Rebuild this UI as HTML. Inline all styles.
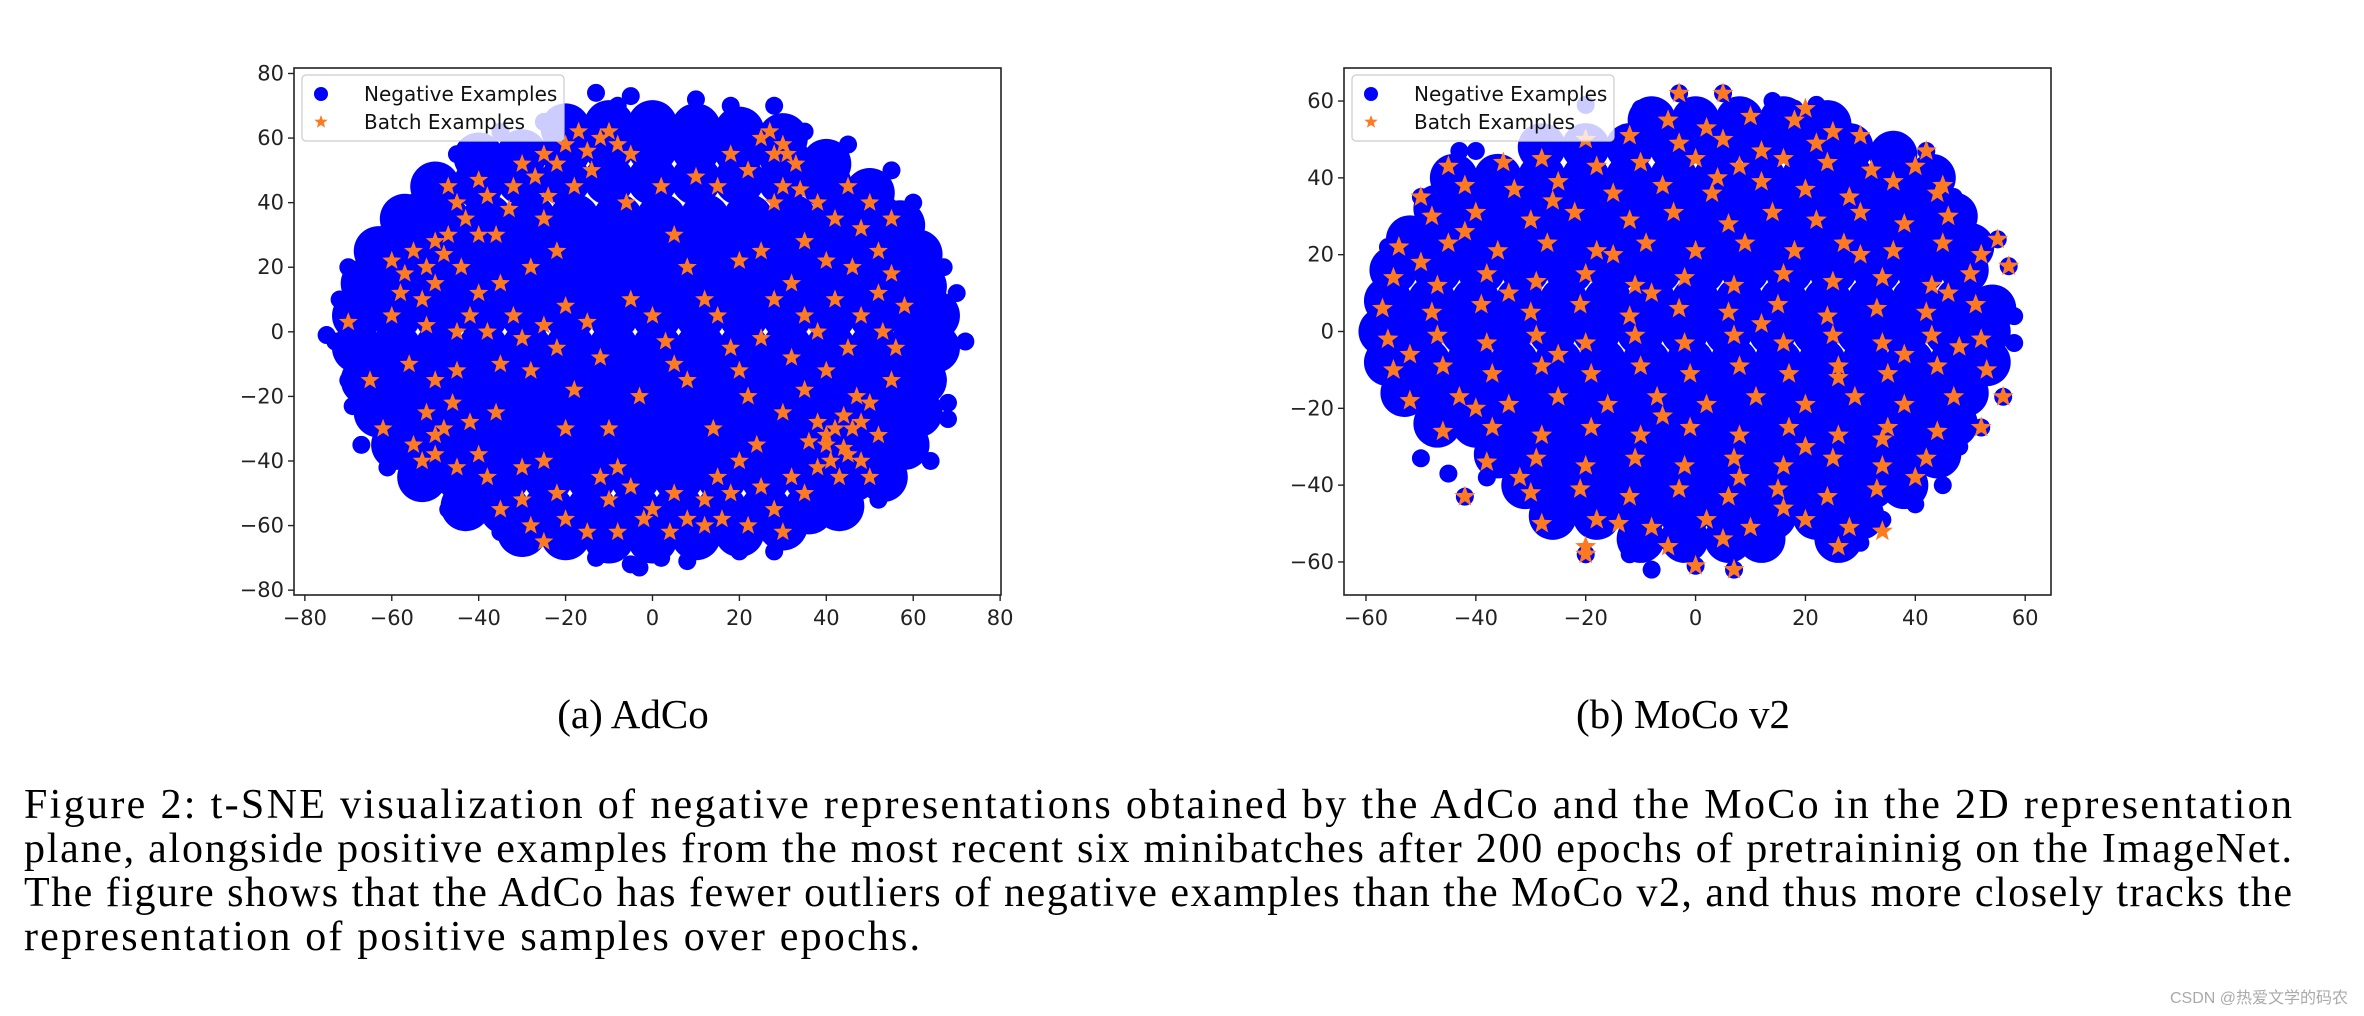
<!DOCTYPE html>
<html><head><meta charset="utf-8"><style>
html,body{margin:0;padding:0;background:#fff;}
svg{display:block;}
.tick{font-family:"DejaVu Sans","Liberation Sans",sans-serif;font-size:21px;fill:#222;}
.leg{font-family:"DejaVu Sans","Liberation Sans",sans-serif;font-size:20px;fill:#111;}
.cap{font-family:"Liberation Serif",serif;font-size:42px;fill:#000;}
</style></head><body>
<svg id="fig" width="2364" height="1016" viewBox="0 0 2364 1016" xmlns="http://www.w3.org/2000/svg">
<g id="c1"></g>
<g id="c2"></g>
<text class="cap" x="633" y="728" text-anchor="middle" style="font-size:41px">(a) AdCo</text>
<text class="cap" x="1683" y="728" text-anchor="middle" style="font-size:41px">(b) MoCo v2</text>
<g>
<text class="cap" x="24" y="818" textLength="2268" lengthAdjust="spacing">Figure 2:  t-SNE visualization of negative representations obtained by the AdCo and the MoCo in the 2D representation</text>
<text class="cap" x="24" y="862" textLength="2268" lengthAdjust="spacing">plane, alongside positive examples from the most recent six minibatches after 200 epochs of pretraininig on the ImageNet.</text>
<text class="cap" x="24" y="906" textLength="2268" lengthAdjust="spacing">The figure shows that the AdCo has fewer outliers of negative examples than the MoCo v2, and thus more closely tracks the</text>
<text class="cap" x="24" y="950" textLength="896" lengthAdjust="spacing">representation of positive samples over epochs.</text>
</g>
<text x="2348" y="1003" text-anchor="end" style="font-family:'Liberation Sans','Noto Sans CJK SC',sans-serif;font-size:16px;fill:#aaa">CSDN @热爱文学的码农</text>
</svg>
<script>
// ---- Chart 1 (AdCo) data ----
const adcoNegCore = [
[-20,63],[-10,64],[0,64],[10,63],[20,62],[30,60],
[-40,54],[-30,55],[-20,56],[-10,57],[0,57],[10,57],[20,56],[30,55],[40,52],
[-50,45],[-40,46],[-30,47],[-20,47],[-10,47],[0,47],[10,47],[20,47],[30,47],[40,46],[50,43],
[-57,35],[-48,35],[-38,35],[-28,35],[-18,35],[-8,35],[2,35],[12,35],[22,35],[32,35],[42,35],[52,35],[57,33],
[-63,25],[-54,25],[-44,25],[-34,25],[-24,25],[-14,25],[-4,25],[6,25],[16,25],[26,25],[36,25],[46,25],[56,25],[61,24],
[-66,15],[-57,15],[-47,15],[-37,15],[-27,15],[-17,15],[-7,15],[3,15],[13,15],[23,15],[33,15],[43,15],[53,15],[62,14],
[-68,5],[-59,5],[-49,5],[-39,5],[-29,5],[-19,5],[-9,5],[1,5],[11,5],[21,5],[31,5],[41,5],[51,5],[60,5],[65,5],
[-68,-5],[-59,-5],[-49,-5],[-39,-5],[-29,-5],[-19,-5],[-9,-5],[1,-5],[11,-5],[21,-5],[31,-5],[41,-5],[51,-5],[60,-5],[65,-5],
[-66,-15],[-57,-15],[-47,-15],[-37,-15],[-27,-15],[-17,-15],[-7,-15],[3,-15],[13,-15],[23,-15],[33,-15],[43,-15],[53,-15],[62,-15],
[-63,-25],[-54,-25],[-44,-25],[-34,-25],[-24,-25],[-14,-25],[-4,-25],[6,-25],[16,-25],[26,-25],[36,-25],[46,-25],[56,-25],[61,-25],
[-59,-35],[-50,-35],[-40,-35],[-30,-35],[-20,-35],[-10,-35],[0,-35],[10,-35],[20,-35],[30,-35],[40,-35],[50,-35],[58,-35],
[-53,-45],[-44,-45],[-34,-45],[-24,-45],[-14,-45],[-4,-45],[6,-45],[16,-45],[26,-45],[36,-45],[46,-45],[53,-45],
[-43,-54],[-34,-55],[-24,-55],[-14,-55],[-4,-55],[6,-55],[16,-55],[26,-55],[36,-55],[43,-54],
[-30,-62],[-20,-63],[-10,-64],[0,-64],[10,-63],[20,-62],[30,-60]
];
const adcoNegEdge = [
[-75,-1],[-73,-3],[-72,10],[-70,20],[-70,-15],[-69,-23],[-67,-35],[-61,-42],[-62,30],[-55,40],
[-47,-55],[-40,-57],[-35,-62],[-13,-70],[-5,-72],[-3,-73],[2,-70],[8,-71],[20,-68],[28,-68],
[70,12],[72,-3],[68,-27],[68,-22],[66,5],[67,20],[60,40],[55,50],[45,58],[35,62],[28,70],[18,70],[10,72],[-13,74],[-5,73],[-8,70],[-25,65],[-35,62],[-45,55],[67,-8],[64,-40],[52,-52]
];
const adcoBatch = [
[-60,22],[-57,18],[-55,25],[-52,20],[-50,15],[-48,24],[-53,10],[-47,30],[-50,28],[-45,40],[-47,45],[-43,35],[-40,47],[-38,42],[-36,30],[-33,38],[-30,52],[-27,48],[-25,55],[-22,52],[-20,58],[-17,62],[-12,60],[-10,62],[-8,58],[-5,55],[-14,50],[-18,45],[-25,35],[-22,25],[-28,20],[-35,15],[-40,12],[-42,5],[-38,0],[-32,5],[-30,-2],[-25,2],[-22,-5],[-20,8],[-15,3],[-12,-8],[-18,-18],[-28,-12],[-35,-10],[-45,-12],[-50,-15],[-52,-25],[-48,-30],[-55,-35],[-50,-38],[-45,-42],[-40,-38],[-38,-45],[-42,-28],[-35,-55],[-30,-52],[-28,-60],[-25,-65],[-20,-58],[-15,-62],[-10,-52],[-8,-42],[-5,-48],[0,-55],[5,-50],[8,-58],[12,-52],[15,-45],[20,-40],[25,-48],[28,-55],[22,-60],[30,-62],[35,-50],[38,-42],[40,-35],[42,-30],[45,-38],[43,-45],[48,-28],[50,-22],[52,-32],[47,-20],[55,-15],[56,-5],[53,0],[58,8],[55,18],[52,25],[55,35],[50,40],[45,45],[42,35],[38,40],[35,28],[30,45],[28,55],[25,60],[30,58],[33,52],[22,50],[18,55],[15,45],[10,48],[2,45],[5,30],[8,20],[12,10],[15,5],[18,-5],[20,-12],[22,-20],[25,-2],[28,10],[32,15],[35,5],[38,0],[42,10],[45,-5],[40,-12],[35,-18],[30,-25],[20,22],[25,25],[-5,10],[0,5],[3,-3],[5,-10],[8,-15],[-3,-20],[-10,-30],[-20,-30],[-25,-40],[-60,5],[-65,-15],[-62,-30],[-70,3],
[40,-32],[44,-36],[46,-30],[41,-40],[38,-28],[44,-26],[36,-34],[48,-40],[27,62],[31,55],[-50,-32],[-53,-40],[-8,-62],[-2,-58],[12,-60],[16,-58],[4,-62],
[-58,12],[-44,20],[-40,30],[-32,45],[-24,42],[-15,56],[-6,40],[28,40],[34,44],[48,32],[52,12],[46,20],[-56,-10],[-46,-22],[-36,-25],[-30,-42],[-22,-50],[-12,-45],[18,-50],[32,-45],[50,-45],[24,-35],[14,-30],[-45,0],[-52,2],[32,-8],[48,5],[40,22]
];
const adcoXTicks = [-80,-60,-40,-20,0,20,40,60,80];
const adcoYTicks = [-80,-60,-40,-20,0,20,40,60,80];

// ---- Chart 2 (MoCo v2) data ----
const mocoNegCore = [
[-8,55],[0,55],[8,55],[16,55],[24,54],
[-28,48],[-20,48],[-12,48],[-4,48],[4,48],[12,48],[20,48],[28,48],[36,46],
[-44,40],[-36,40],[-28,40],[-20,40],[-12,40],[-4,40],[4,40],[12,40],[20,40],[28,40],[36,40],[43,40],
[-47,32],[-39,32],[-31,32],[-23,32],[-15,32],[-7,32],[1,32],[9,32],[17,32],[25,32],[33,32],[41,32],[47,30],
[-52,24],[-44,24],[-36,24],[-28,24],[-20,24],[-12,24],[-4,24],[4,24],[12,24],[20,24],[28,24],[36,24],[44,24],[50,22],
[-55,16],[-47,16],[-39,16],[-31,16],[-23,16],[-15,16],[-7,16],[1,16],[9,16],[17,16],[25,16],[33,16],[41,16],[49,16],
[-56,8],[-48,8],[-40,8],[-32,8],[-24,8],[-16,8],[-8,8],[0,8],[8,8],[16,8],[24,8],[32,8],[40,8],[48,8],[54,6],
[-57,0],[-50,0],[-42,0],[-34,0],[-26,0],[-18,0],[-10,0],[-2,0],[6,0],[14,0],[22,0],[30,0],[38,0],[46,0],[53,0],
[-56,-8],[-49,-8],[-41,-8],[-33,-8],[-25,-8],[-17,-8],[-9,-8],[-1,-8],[7,-8],[15,-8],[23,-8],[31,-8],[39,-8],[47,-8],[53,-8],
[-53,-16],[-46,-16],[-38,-16],[-30,-16],[-22,-16],[-14,-16],[-6,-16],[2,-16],[10,-16],[18,-16],[26,-16],[34,-16],[42,-16],[49,-16],
[-47,-24],[-40,-24],[-32,-24],[-24,-24],[-16,-24],[-8,-24],[0,-24],[8,-24],[16,-24],[24,-24],[32,-24],[40,-24],[47,-24],
[-36,-32],[-28,-32],[-20,-32],[-12,-32],[-4,-32],[4,-32],[12,-32],[20,-32],[28,-32],[36,-32],[44,-32],
[-31,-40],[-24,-40],[-16,-40],[-8,-40],[0,-40],[8,-40],[16,-40],[24,-40],[32,-40],[38,-40],
[-26,-48],[-18,-48],[-10,-48],[-2,-48],[6,-48],[14,-48],[22,-48],[30,-48],
[-10,-54],[-2,-54],[6,-54],[12,-54],[26,-54]
];
const mocoNegEdge = [
[-10,58],[-20,59],[-43,47],[-50,35],[-45,43],[-40,47],[-50,-33],[-45,-37],[-42,-43],[-38,-38],[-8,-62],[-12,-58],[0,-61],[7,-62],[-20,-58],
[45,-40],[40,-45],[42,47],[45,38],[47,35],[55,24],[57,17],[58,4],[58,-3],[56,-17],[52,-25],[48,-30],[34,-49],[30,-55],[-3,62],[5,62],[14,60],[18,58],[22,59],[35,49],[-56,22],[-57,12],[-58,-6]
];
const mocoBatch = [
[-5,55],[2,53],[10,56],[18,55],[25,52],[-3,62],[5,62],[20,58],
[-20,50],[-12,51],[-3,49],[5,50],[12,47],[22,49],[30,51],
[-35,44],[-28,45],[-18,43],[-10,44],[0,45],[8,43],[16,45],[24,44],[32,42],[40,43],
[-42,38],[-33,37],[-25,39],[-15,36],[-6,38],[3,36],[12,39],[20,37],[28,35],[36,39],[44,36],
[-48,30],[-40,31],[-30,29],[-22,31],[-12,29],[-4,31],[6,28],[14,31],[22,29],[30,31],[38,28],[46,30],
[-54,22],[-45,23],[-36,21],[-27,23],[-18,21],[-9,23],[0,21],[9,23],[18,21],[27,23],[36,21],[45,23],[52,20],
[-55,14],[-47,12],[-38,15],[-29,13],[-20,15],[-11,12],[-2,14],[7,12],[16,15],[25,13],[34,14],[43,12],[50,15],
[-57,6],[-48,5],[-39,7],[-30,5],[-21,7],[-12,4],[-3,6],[6,5],[15,7],[24,4],[33,6],[42,5],[51,7],
[-56,-2],[-47,-1],[-38,-3],[-29,-1],[-20,-3],[-11,-1],[-2,-3],[7,-1],[16,-3],[25,-1],[34,-3],[43,-1],[52,-2],
[-55,-10],[-46,-9],[-37,-11],[-28,-9],[-19,-11],[-10,-9],[-1,-11],[8,-9],[17,-11],[26,-9],[35,-11],[44,-9],[53,-10],
[-52,-18],[-43,-17],[-34,-19],[-25,-17],[-16,-19],[-7,-17],[2,-19],[11,-17],[20,-19],[29,-17],[38,-19],[47,-17],
[-46,-26],[-37,-25],[-28,-27],[-19,-25],[-10,-27],[-1,-25],[8,-27],[17,-25],[26,-27],[35,-25],[44,-26],
[-38,-34],[-29,-33],[-20,-35],[-11,-33],[-2,-35],[7,-33],[16,-35],[25,-33],[34,-35],[42,-33],
[-30,-42],[-21,-41],[-12,-43],[-3,-41],[6,-43],[15,-41],[24,-43],[33,-41],
[-28,-50],[-18,-49],[-8,-51],[2,-49],[10,-51],[20,-49],[28,-51],
[-20,-56],[-5,-56],[5,-54],[26,-56],[34,-52],
[-20,-58],[0,-61],[7,-62],[55,24],[57,17],[-50,35],[-45,43],[-42,-43],[42,47],[45,38],[56,-17],[52,-25],
[-50,18],[-42,26],[-34,10],[-25,-6],[-15,20],[-6,-22],[4,40],[12,2],[20,-30],[30,20],[38,-6],[46,10],[-40,-20],[-32,-38],[-14,-50],[16,-46],[34,-28],[48,-4],[-52,-6],[8,-38],[-26,34],[26,-12],[-8,10],[40,-38]
];
const mocoXTicks = [-60,-40,-20,0,20,40,60];
const mocoYTicks = [-60,-40,-20,0,20,40,60];

const NS='http://www.w3.org/2000/svg';
function mk(tag, attrs, parent){const e=document.createElementNS(NS,tag);for(const k in attrs)e.setAttribute(k,attrs[k]);parent.appendChild(e);return e;}
function starPath(cx,cy,R){const r=R*0.42;let d='';for(let i=0;i<10;i++){const a=-Math.PI/2+i*Math.PI/5;const rr=i%2?r:R;d+=(i?'L':'M')+(cx+rr*Math.cos(a)).toFixed(1)+' '+(cy+rr*Math.sin(a)).toFixed(1);}return d+'Z';}

function drawChart(g, cfg){
  const sx=v=>cfg.L+(v-cfg.xmin)/(cfg.xmax-cfg.xmin)*(cfg.R-cfg.L);
  const sy=v=>cfg.B-(v-cfg.ymin)/(cfg.ymax-cfg.ymin)*(cfg.B-cfg.T);
  const clip='clip'+cfg.id;
  const defs=mk('defs',{},g);
  const cp=mk('clipPath',{id:clip},defs);
  mk('rect',{x:cfg.L,y:cfg.T,width:cfg.R-cfg.L,height:cfg.B-cfg.T},cp);
  const pts=mk('g',{'clip-path':'url(#'+clip+')'},g);
  
  
  cfg.core.forEach(p=>{
    const c=mk('circle',{cx:sx(p[0]),cy:sy(p[1]),r:cfg.coreR,fill:'#0000ff'},pts);
    
    
  });
  cfg.edge.forEach(p=>{
    const c=mk('circle',{cx:sx(p[0]),cy:sy(p[1]),r:9,fill:'#0000ff'},pts);
    
    
  });
  const st=mk('g',{'clip-path':'url(#'+clip+')'},g);
  
  
  cfg.stars.forEach(p=>{
    const s=mk('path',{d:starPath(sx(p[0]),sy(p[1]),cfg.starR),fill:'#ff7a1f'},st);
    
    
  });
  const fr=mk('rect',{x:cfg.L,y:cfg.T,width:cfg.R-cfg.L,height:cfg.B-cfg.T,fill:'none',stroke:'#222','stroke-width':1.6},g);
  
  
  cfg.xt.forEach(v=>{
    const x=sx(v);
    mk('line',{x1:x,x2:x,y1:cfg.B,y2:cfg.B+6,stroke:'#222','stroke-width':1.4},g);
    const t=mk('text',{x:x,y:cfg.B+30,'text-anchor':'middle',class:'tick'},g);
    t.textContent=v<0?'\u2212'+(-v):String(v);
    
    
  });
  cfg.yt.forEach(v=>{
    const y=sy(v);
    mk('line',{x1:cfg.L-6,x2:cfg.L,y1:y,y2:y,stroke:'#222','stroke-width':1.4},g);
    const t=mk('text',{x:cfg.L-10,y:y+7,'text-anchor':'end',class:'tick'},g);
    t.textContent=v<0?'\u2212'+(-v):String(v);
    
    
  });
  const lg=mk('g',{},g);
  
  
  mk('rect',{x:cfg.L+8,y:cfg.T+7,width:262,height:66,rx:4,fill:'rgba(255,255,255,0.8)',stroke:'#ccc','stroke-width':1.2},lg);
  mk('circle',{cx:cfg.L+27,cy:cfg.T+26,r:7,fill:'#0000ff'},lg);
  mk('path',{d:starPath(cfg.L+27,cfg.T+54,7),fill:'#ff7a1f'},lg);
  const t1=mk('text',{x:cfg.L+70,y:cfg.T+33,class:'leg'},lg);t1.textContent='Negative Examples';
  
  
  const t2=mk('text',{x:cfg.L+70,y:cfg.T+61,class:'leg'},lg);t2.textContent='Batch Examples';
  
  
}
drawChart(document.getElementById('c1'),{id:1,L:294,R:1001,T:68,B:595,xmin:-82.5,xmax:80.2,ymin:-81.5,ymax:81.7,core:adcoNegCore,edge:adcoNegEdge,stars:adcoBatch,xt:adcoXTicks,yt:adcoYTicks,coreR:25,starR:10});
drawChart(document.getElementById('c2'),{id:2,L:1344,R:2051,T:68,B:595,xmin:-64,xmax:64.7,ymin:-68.6,ymax:68.6,core:mocoNegCore,edge:mocoNegEdge,stars:mocoBatch,xt:mocoXTicks,yt:mocoYTicks,coreR:24,starR:11});
</script>
</body></html>
